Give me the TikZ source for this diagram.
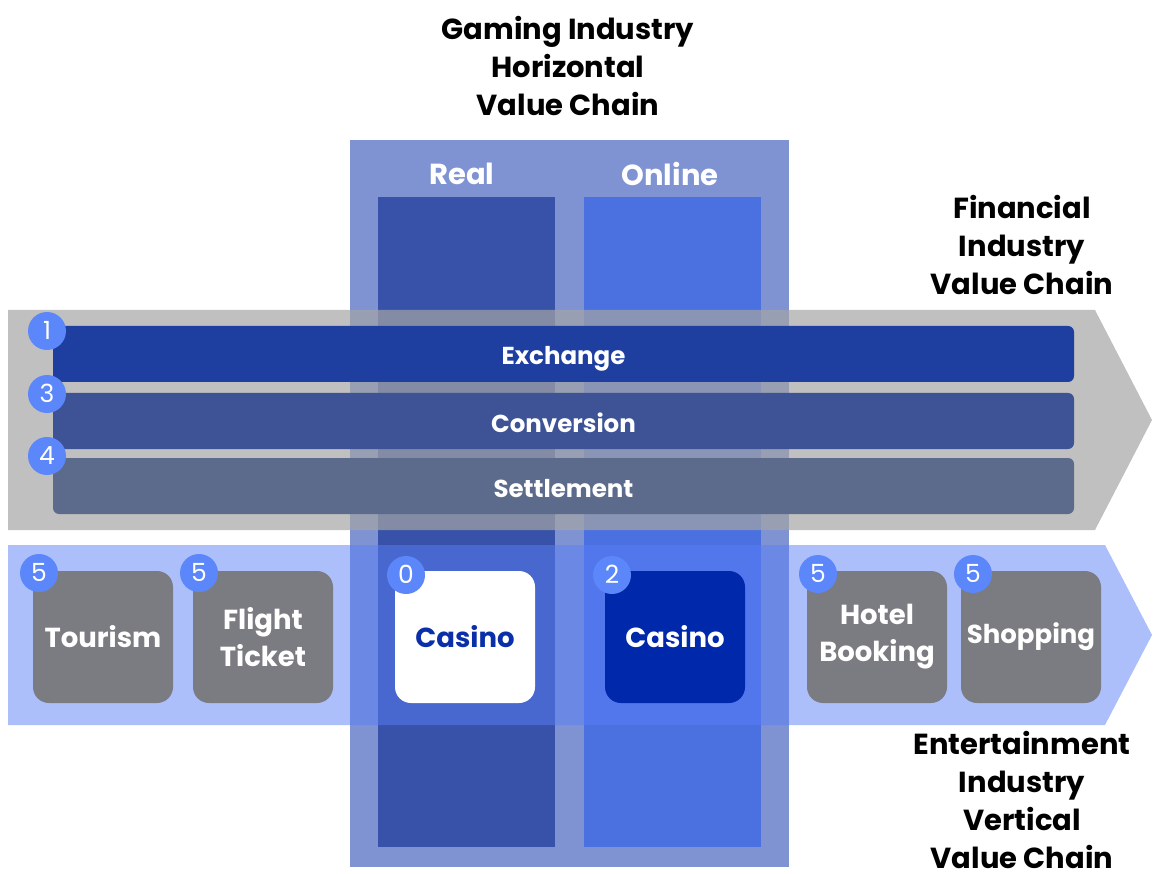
\documentclass[tikz,border=0pt]{standalone}
\usepackage{fontspec}
\setmainfont{Poppins}
\definecolor{colOuter}{HTML}{7F93D3}
\definecolor{colReal}{HTML}{3752A8}
\definecolor{colOnline}{HTML}{4B70E0}
\definecolor{colEx}{HTML}{1E3FA0}
\definecolor{colConv}{HTML}{3D5396}
\definecolor{colSet}{HTML}{5C6A8C}
\definecolor{colCirc}{HTML}{5B87FB}
\definecolor{colBox}{HTML}{7B7C81}
\definecolor{colCasD}{HTML}{0028AA}
\definecolor{colCasTxt}{HTML}{0A2FA8}
\definecolor{colGrayArr}{HTML}{A5A5A5}
\definecolor{colLightArr}{HTML}{5A7FF8}
\tikzset{
  lbl/.style={text=white, font=\bfseries\fontsize{29}{30}\selectfont},
  ttl/.style={align=center, font=\bfseries\fontsize{29}{38}\selectfont},
  bar/.style={rounded corners=6pt, minimum width=1021pt, minimum height=56pt, inner sep=0pt, text=white, text height=22pt, text depth=0pt, font=\bfseries\fontsize{24.5}{25}\selectfont},
  tile/.style={rounded corners=16pt, minimum width=140pt, minimum height=132pt, inner sep=0pt, align=center, font=\bfseries\fontsize{27.5}{37}\selectfont},
  num/.style={circle, fill=colCirc, minimum size=38pt, inner sep=0pt, text=white, text height=17.5pt, text depth=0pt, font=\fontsize{25}{25}\selectfont},
  col/.style={minimum width=177pt, minimum height=650pt, inner sep=0pt, anchor=north west},
}
\begin{document}
\begin{tikzpicture}[x=1pt,y=-1pt]
\useasboundingbox (0,0) rectangle (1154,874);
% vertical gaming chain
\node[fill=colOuter, minimum width=439pt, minimum height=727pt, inner sep=0pt, anchor=north west] (outer) at (350,140) {};
\node[col, fill=colReal] (realcol) at (378,197) {};
\node[col, fill=colOnline] (onlinecol) at (584,197) {};
\node[lbl] (real) at (462,174) {Real};
\node[lbl] (online) at (670,174) {Online};
% financial arrow
\fill[colGrayArr, fill opacity=0.7] (8,310) -- (1095,310) -- (1152,420) -- (1095,530) -- (8,530) -- cycle;
\node[bar, fill=colEx] (exchange) at (563.5,354) {Exchange};
\node[bar, fill=colConv] (conversion) at (563.5,421) {Conversion};
\node[bar, fill=colSet] (settlement) at (563.5,486) {Settlement};
\node[num] (n1) at (47,331) {1};
\node[num] (n3) at (47,394) {3};
\node[num] (n4) at (47,456) {4};
% entertainment arrow
\fill[colLightArr, fill opacity=0.5] (8,545) -- (1105,545) -- (1152,635) -- (1105,725) -- (8,725) -- cycle;
\node[tile, fill=colBox, text=white] (tourism) at (103,637) {Tourism};
\node[tile, fill=colBox, text=white] (flight) at (263,637) {Flight\\Ticket};
\node[tile, fill=white, text=colCasTxt] (casino0) at (465,637) {Casino};
\node[tile, fill=colCasD, text=white] (casino2) at (675,637) {Casino};
\node[tile, fill=colBox, text=white] (hotel) at (877,637) {Hotel\\Booking};
\node[tile, fill=colBox, text=white, font=\bfseries\fontsize{26}{37}\selectfont] (shopping) at (1031,637) {Shopping};
\node[num] (n5a) at (39,573) {5};
\node[num] (n5b) at (199,573) {5};
\node[num] (n0) at (406,575) {0};
\node[num] (n2) at (612,575) {2};
\node[num] (n5c) at (818,574) {5};
\node[num] (n5d) at (973,574) {5};
% titles
\node[ttl] (gaming) at (568,66) {Gaming Industry\\Horizontal\\Value Chain};
\node[ttl] (financial) at (1022,245) {Financial\\Industry\\Value Chain};
\node[ttl] (entertain) at (1022,800) {Entertainment\\Industry\\Vertical\\Value Chain};
\end{tikzpicture}
\end{document}
